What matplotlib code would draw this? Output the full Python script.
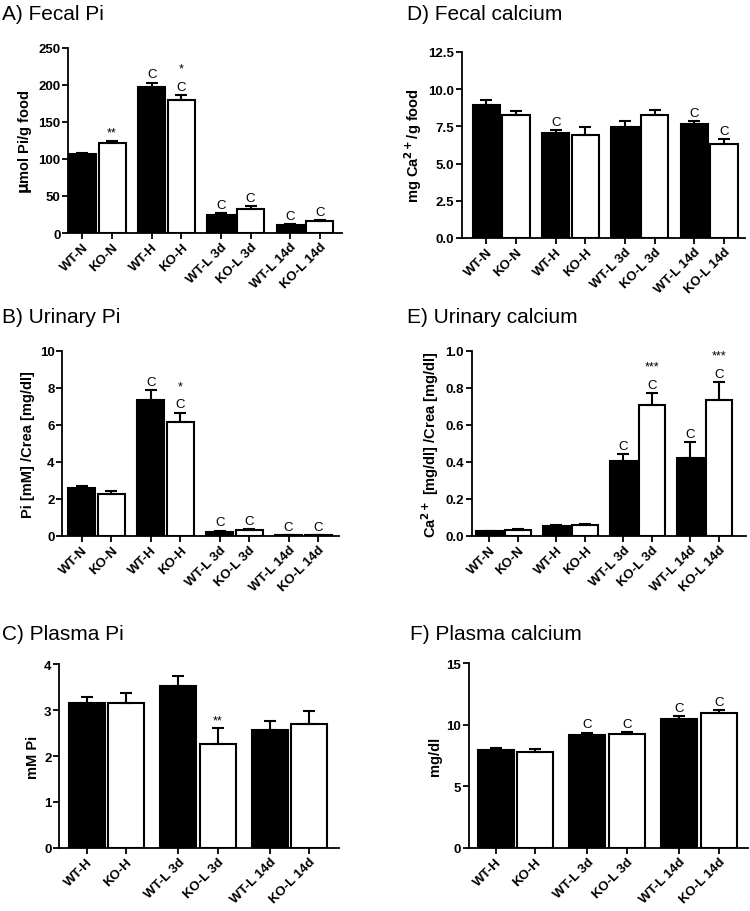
import matplotlib
matplotlib.use('Agg')
import matplotlib.pyplot as plt

plt.rcParams['font.family'] = ['Liberation Sans', 'DejaVu Sans']

groups8 = ['WT-N', 'KO-N', 'WT-H', 'KO-H', 'WT-L 3d', 'KO-L 3d', 'WT-L 14d', 'KO-L 14d']
groups6 = ['WT-H', 'KO-H', 'WT-L 3d', 'KO-L 3d', 'WT-L 14d', 'KO-L 14d']

# A) Fecal Pi
fecal_pi = [107, 122, 197, 180, 25, 33, 11, 16]
fecal_pi_err = [1.5, 2.5, 6, 6.5, 1.5, 3, 1, 1.2]
fecal_pi_marks = ['', '**', 'C', 'C|*', 'C', 'C', 'C', 'C']

# B) Urinary Pi
urin_pi = [2.58, 2.29, 7.36, 6.15, 0.22, 0.31, 0.03, 0.04]
urin_pi_err = [0.11, 0.13, 0.54, 0.51, 0.07, 0.07, 0.01, 0.01]
urin_pi_marks = ['', '', 'C', 'C|*', 'C', 'C', 'C', 'C']

# C) Plasma Pi
plasma_pi = [3.16, 3.15, 3.53, 2.27, 2.57, 2.70]
plasma_pi_err = [0.13, 0.21, 0.22, 0.33, 0.20, 0.28]
plasma_pi_marks = ['', '', '', '**', '', '']

# D) Fecal calcium
fecal_ca = [8.97, 8.29, 7.03, 6.90, 7.48, 8.25, 7.64, 6.29]
fecal_ca_err = [0.33, 0.27, 0.23, 0.58, 0.36, 0.38, 0.23, 0.34]
fecal_ca_marks = ['', '', 'C', '', '', '', 'C', 'C']

# E) Urinary calcium
urin_ca = [0.025, 0.034, 0.056, 0.059, 0.407, 0.706, 0.420, 0.737]
urin_ca_err = [0.003, 0.006, 0.004, 0.007, 0.036, 0.065, 0.085, 0.093]
urin_ca_marks = ['', '', '', '', 'C', 'C|***', 'C', 'C|***']

# F) Plasma calcium
plasma_ca = [7.92, 7.76, 9.14, 9.22, 10.49, 10.95]
plasma_ca_err = [0.22, 0.29, 0.21, 0.16, 0.21, 0.21]
plasma_ca_marks = ['', '', 'C', 'C', 'C', 'C']

fig = plt.figure(figsize=(7.5, 9.12), dpi=100)


def panel(rect, title, title_xy, labels, vals, errs, marks, ylim, yticks,
          yticklabels, ylabel, first, xmax):
    ax = fig.add_axes(rect)
    pos = [first + (k // 2) * 2.5 + (k % 2) * 1.07 for k in range(len(vals))]
    colors = ['black' if k % 2 == 0 else 'white' for k in range(len(vals))]
    ax.bar(pos, vals, width=0.98, color=colors, edgecolor='black', linewidth=1.5, zorder=2)
    ax.errorbar(pos, vals, yerr=[[0] * len(vals), errs], fmt='none', ecolor='black',
                elinewidth=1.5, capsize=4.5, capthick=1.5, zorder=3)
    span = ylim[1] - ylim[0]
    for p, v, e, m in zip(pos, vals, errs, marks):
        if not m:
            continue
        y = v + e + span * 0.012
        for part in m.split('|'):
            ax.text(p, y, part, ha='center', va='bottom',
                    fontsize=9.5 if part == 'C' else 9)
            y += span * (0.1 if part == 'C' else 0.09)
    ax.set_xlim(0, xmax)
    ax.set_ylim(*ylim)
    ax.set_yticks(yticks)
    ax.set_yticklabels(yticklabels, fontweight='bold', fontsize=9.5)
    ax.set_xticks(pos)
    ax.set_xticklabels(labels, rotation=45, ha='right', rotation_mode='anchor',
                       fontweight='bold', fontsize=9.5)
    ax.set_ylabel(ylabel, fontweight='bold', fontsize=10.5, labelpad=3)
    for s in ['top', 'right']:
        ax.spines[s].set_visible(False)
    for s in ['left', 'bottom']:
        ax.spines[s].set_linewidth(1.3)
    ax.tick_params(width=1.3, length=4, pad=1.5)
    fig.text(title_xy[0] / 750, 1 - title_xy[1] / 912, title, fontsize=15,
             ha='left', va='center')
    return ax


panel([0.0907, 0.7434, 0.365, 0.203], 'A) Fecal Pi', (2, 15), groups8,
      fecal_pi, fecal_pi_err, fecal_pi_marks, (0, 250), [0, 50, 100, 150, 200, 250],
      ['0', '50', '100', '150', '200', '250'], r'$\mathbf{\mu}$mol Pi/g food',
      0.52, 9.88)

panel([0.0827, 0.4112, 0.369, 0.203], 'B) Urinary Pi', (2, 318), groups8,
      urin_pi, urin_pi_err, urin_pi_marks, (0, 10), [0, 2, 4, 6, 8, 10],
      ['0', '2', '4', '6', '8', '10'], 'Pi [mM] /Crea [mg/dl]',
      0.72, 10.04)

panel([0.0787, 0.0691, 0.373, 0.2017], 'C) Plasma Pi', (2, 635), groups6,
      plasma_pi, plasma_pi_err, plasma_pi_marks, (0, 4), [0, 1, 2, 3, 4],
      ['0', '1', '2', '3', '4'], 'mM Pi',
      0.76, 7.64)

panel([0.616, 0.738, 0.377, 0.2039], 'D) Fecal calcium', (407, 14), groups8,
      fecal_ca, fecal_ca_err, fecal_ca_marks, (0, 12.5), [0, 2.5, 5.0, 7.5, 10.0, 12.5],
      ['0.0', '2.5', '5.0', '7.5', '10.0', '12.5'], r'mg Ca$^{\mathbf{2+}}$/g food',
      0.88, 10.2)

panel([0.629, 0.4112, 0.366, 0.203], 'E) Urinary calcium', (407, 318), groups8,
      urin_ca, urin_ca_err, urin_ca_marks, (0, 1.0), [0, 0.2, 0.4, 0.6, 0.8, 1.0],
      ['0.0', '0.2', '0.4', '0.6', '0.8', '1.0'], r'Ca$^{\mathbf{2+}}$ [mg/dl] /Crea [mg/dl]',
      0.66, 10.24)

panel([0.625, 0.0691, 0.372, 0.2028], 'F) Plasma calcium', (410, 635), groups6,
      plasma_ca, plasma_ca_err, plasma_ca_marks, (0, 15), [0, 5, 10, 15],
      ['0', '5', '10', '15'], 'mg/dl',
      0.73, 7.59)

fig.savefig('out.png', dpi=100)
